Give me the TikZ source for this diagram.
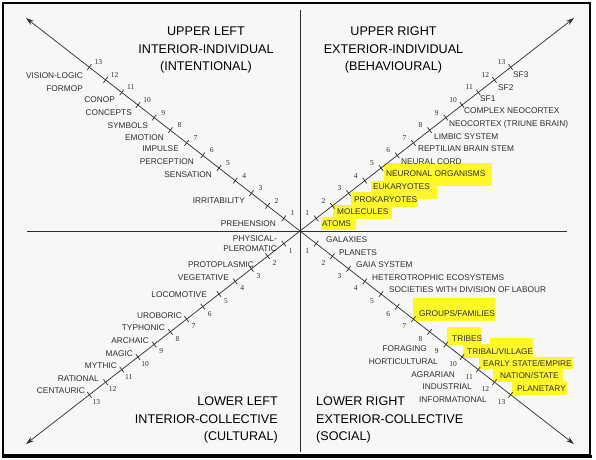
\documentclass[tikz,border=0pt]{standalone}
\usepackage{fontspec}
\setmainfont{Liberation Sans}
\newfontfamily\numfont{Liberation Serif}
\usetikzlibrary{arrows.meta,calc}
\definecolor{hl}{RGB}{255,248,40}
\definecolor{bgc}{RGB}{247,247,245}
\definecolor{ink}{RGB}{45,45,45}
\tikzset{
  axis/.style={draw=ink, line width=0.7pt},
  axarrow/.style={axis, -{Stealth[length=8pt,width=5pt]}},
  tickmark/.style={draw=ink, line width=0.7pt},
  lab/.style={inner sep=0pt, text=ink, font=\fontsize{8.3}{9.5}\selectfont},
  num/.style={inner sep=0pt, text=ink, font=\numfont\fontsize{7.5}{8}\selectfont},
  title/.style={inner sep=0pt, text=black, font=\fontsize{12.6}{17.5}\selectfont},
  hlbox/.style={fill=hl}
}
\begin{document}
\begin{tikzpicture}[x=1pt,y=-1pt]
\useasboundingbox (0,0) rectangle (596,459);
\fill[white] (0,0) rectangle (596,459);
\fill[bgc] (3,3) rectangle (590,455);
\draw[black, line width=1.6pt] (3,3) rectangle (590,455);
\draw[black, line width=3pt] (2,456.5) -- (591.5,456.5);

% highlights
\fill[hlbox] (384,163) rectangle (492,186);
\fill[hlbox] (371,181) rectangle (437,199);
\fill[hlbox] (351,192) rectangle (418,207);
\fill[hlbox] (333,205) rectangle (392,219);
\fill[hlbox] (321,217) rectangle (356,230);
\fill[hlbox] (413,298) rectangle (495,321);
\fill[hlbox] (447,327) rectangle (481,345);
\fill[hlbox] (490,338) rectangle (533,346);
\fill[hlbox] (463,344) rectangle (533,358);
\fill[hlbox] (479,357) rectangle (573,369);
\fill[hlbox] (493,368) rectangle (563,382);
\fill[hlbox] (512,381) rectangle (567,395);

% axes
\coordinate (c) at (300,231);
\coordinate (ul) at (26,18);
\coordinate (ur) at (574,18);
\coordinate (ll) at (26,444);
\coordinate (lr) at (574,444);
\coordinate (hleft) at (27,231);
\coordinate (hright) at (567,231);
\coordinate (vtop) at (300,10);
\coordinate (vbot) at (300,452);
\draw[axis] (hleft) -- (hright);
\draw[axis] (vtop) -- (vbot);
\draw[axarrow] (c) -- (ul);
\draw[axarrow] (c) -- (ur);
\draw[axarrow] (c) -- (ll);
\draw[axarrow] (c) -- (lr);

% ticks and numbers
\foreach \k in {1,...,13}{
  \coordinate (tul\k) at ($(c)+(-16.2*\k,-12.6*\k)$);
  \coordinate (tur\k) at ($(c)+(16.2*\k,-12.6*\k)$);
  \coordinate (tll\k) at ($(c)+(-16.2*\k,12.6*\k)$);
  \coordinate (tlr\k) at ($(c)+(16.2*\k,12.6*\k)$);
  \draw[tickmark] ($(tul\k)+(-2.1,2.8)$) -- ($(tul\k)+(2.1,-2.8)$);
  \draw[tickmark] ($(tlr\k)+(-2.1,2.8)$) -- ($(tlr\k)+(2.1,-2.8)$);
  \draw[tickmark] ($(tur\k)+(-2.1,-2.8)$) -- ($(tur\k)+(2.1,2.8)$);
  \draw[tickmark] ($(tll\k)+(-2.1,-2.8)$) -- ($(tll\k)+(2.1,2.8)$);
  \node[num] (nul\k) at ($(tul\k)+(9,-5)$) {\k};
  \node[num] (nur\k) at ($(tur\k)+(-9,-5)$) {\k};
  \node[num] (nll\k) at ($(tll\k)+(7,7)$) {\k};
  \node[num] (nlr\k) at ($(tlr\k)+(-9,7)$) {\k};
}

% titles
\node[title, align=center] (tUL) at (206,50) {UPPER LEFT\\INTERIOR-INDIVIDUAL\\(INTENTIONAL)};
\node[title, align=center] (tUR) at (393.5,50) {UPPER RIGHT\\EXTERIOR-INDIVIDUAL\\(BEHAVIOURAL)};
\node[title, align=right, anchor=east] (tLL) at (278,420) {LOWER LEFT\\INTERIOR-COLLECTIVE\\(CULTURAL)};
\node[title, align=left, anchor=west] (tLR) at (316,420) {LOWER RIGHT\\EXTERIOR-COLLECTIVE\\(SOCIAL)};

% upper left labels
\node[lab, anchor=east] (ul13) at (83,76) {VISION-LOGIC};
\node[lab, anchor=east] (ul12) at (83,89) {FORMOP};
\node[lab, anchor=east] (ul11) at (115,100) {CONOP};
\node[lab, anchor=east] (ul10) at (132,113) {CONCEPTS};
\node[lab, anchor=east] (ul9) at (148,126) {SYMBOLS};
\node[lab, anchor=east] (ul8) at (164,138) {EMOTION};
\node[lab, anchor=east] (ul7) at (179,149) {IMPULSE};
\node[lab, anchor=east] (ul6) at (194,162) {PERCEPTION};
\node[lab, anchor=east] (ul5) at (212,175) {SENSATION};
\node[lab, anchor=east] (ul3) at (245,201) {IRRITABILITY};
\node[lab, anchor=east] (ul1) at (276,224) {PREHENSION};

% upper right labels
\node[lab, anchor=west] (ur13) at (513,75) {SF3};
\node[lab, anchor=west] (ur12) at (498,88) {SF2};
\node[lab, anchor=west] (ur11) at (480,99) {SF1};
\node[lab, anchor=west] (ur10) at (464,111) {COMPLEX NEOCORTEX};
\node[lab, anchor=west] (ur9) at (449,124) {NEOCORTEX (TRIUNE BRAIN)};
\node[lab, anchor=west] (ur8) at (434,137) {LIMBIC SYSTEM};
\node[lab, anchor=west] (ur7) at (418,149) {REPTILIAN BRAIN STEM};
\node[lab, anchor=west] (ur6) at (401,162) {NEURAL CORD};
\node[lab, anchor=west] (ur5) at (386,174) {NEURONAL ORGANISMS};
\node[lab, anchor=west] (ur4) at (373,187) {EUKARYOTES};
\node[lab, anchor=west] (ur3) at (354,200) {PROKARYOTES};
\node[lab, anchor=west] (ur2) at (337,212) {MOLECULES};
\node[lab, anchor=west] (ur1) at (322,224) {ATOMS};

% lower left labels
\node[lab, anchor=east, align=right] (ll1) at (277,243.5) {PHYSICAL-\\PLEROMATIC};
\node[lab, anchor=east] (ll3) at (254,265) {PROTOPLASMIC};
\node[lab, anchor=east] (ll4) at (229,278) {VEGETATIVE};
\node[lab, anchor=east] (ll5) at (207,295) {LOCOMOTIVE};
\node[lab, anchor=east] (ll7) at (182,316) {UROBORIC};
\node[lab, anchor=east] (ll8) at (165,328) {TYPHONIC};
\node[lab, anchor=east] (ll9) at (149,341) {ARCHAIC};
\node[lab, anchor=east] (ll10) at (133,354) {MAGIC};
\node[lab, anchor=east] (ll11) at (117,366) {MYTHIC};
\node[lab, anchor=east] (ll12) at (99,379) {RATIONAL};
\node[lab, anchor=east] (ll13) at (85,391) {CENTAURIC};

% lower right labels
\node[lab, anchor=west] (lr1) at (326,240) {GALAXIES};
\node[lab, anchor=west] (lr2) at (339,253) {PLANETS};
\node[lab, anchor=west] (lr3) at (356,265) {GAIA SYSTEM};
\node[lab, anchor=west] (lr4) at (372,278) {HETEROTROPHIC ECOSYSTEMS};
\node[lab, anchor=west] (lr5) at (389,290) {SOCIETIES WITH DIVISION OF LABOUR};
\node[lab, anchor=west] (lr7) at (419,314) {GROUPS/FAMILIES};
\node[lab, anchor=west] (lr9) at (452,339) {TRIBES};
\node[lab, anchor=west] (lr10) at (467,352) {TRIBAL/VILLAGE};
\node[lab, anchor=west] (lr11) at (483,364) {EARLY STATE/EMPIRE};
\node[lab, anchor=west] (lr12) at (500,376) {NATION/STATE};
\node[lab, anchor=west] (lr13) at (517,389) {PLANETARY};
\node[lab, anchor=east] (lf9) at (427,349) {FORAGING};
\node[lab, anchor=east] (lf10) at (438,362) {HORTICULTURAL};
\node[lab, anchor=east] (lf11) at (455,375) {AGRARIAN};
\node[lab, anchor=east] (lf12) at (472,387) {INDUSTRIAL};
\node[lab, anchor=east] (lf13) at (487,400) {INFORMATIONAL};
\end{tikzpicture}
\end{document}
